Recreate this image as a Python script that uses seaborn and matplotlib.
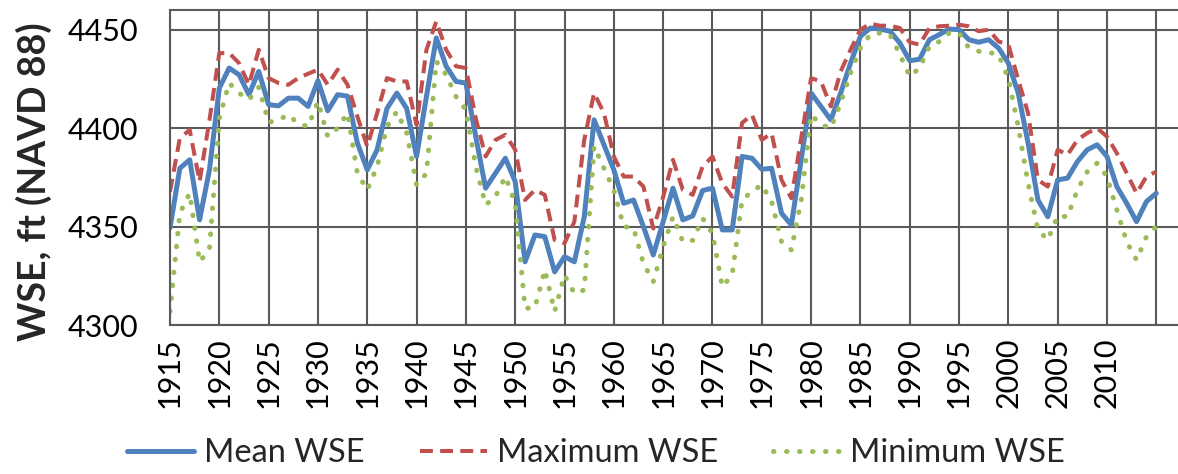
import matplotlib
matplotlib.use("Agg")
import matplotlib.pyplot as plt
import numpy as np
import pandas as pd
import seaborn as sns

years = list(range(1915, 2016))

mean_wse = [
    4349.3, 4379.6, 4383.9, 4353.4, 4378.8, 4420.3, 4430.5, 4427.1, 4417.0, 4428.8,
    4411.9, 4411.3, 4415.2, 4415.2, 4411.0, 4424.1, 4408.8, 4417.0, 4416.2, 4392.4,
    4378.8, 4389.0, 4410.0, 4417.8, 4410.0, 4385.6, 4416.0, 4445.8, 4431.4, 4423.7,
    4422.9, 4395.7, 4369.5, 4377.1, 4384.7, 4372.9, 4332.1, 4345.7, 4344.9, 4327.0,
    4334.7, 4332.1, 4355.0, 4404.2, 4391.5, 4378.8, 4361.8, 4363.5, 4350.0, 4335.6,
    4352.5, 4369.5, 4353.4, 4355.4, 4368.3, 4369.5, 4348.3, 4348.3, 4385.6, 4384.7,
    4379.1, 4379.6, 4356.8, 4350.8, 4384.0, 4417.8, 4411.0, 4404.2, 4417.8, 4433.0,
    4446.6, 4450.8, 4450.3, 4449.2, 4443.2, 4434.2, 4435.0, 4444.9, 4447.5, 4450.3,
    4450.0, 4444.9, 4443.6, 4444.9, 4440.7, 4433.0, 4417.8, 4392.4, 4363.5, 4355.0,
    4373.7, 4374.6, 4383.0, 4389.0, 4391.5, 4385.6, 4370.3, 4361.8, 4352.5, 4362.7,
    4366.9,
]

max_wse = [
    4367.8, 4394.9, 4399.1, 4372.9, 4404.0, 4438.1, 4438.1, 4433.0, 4422.0, 4439.8,
    4425.4, 4422.9, 4422.0, 4425.4, 4427.6, 4429.7, 4422.0, 4429.7, 4422.0, 4405.9,
    4390.7, 4407.6, 4425.4, 4423.7, 4423.7, 4401.7, 4439.8, 4454.2, 4439.8, 4431.4,
    4430.5, 4405.0, 4385.6, 4394.0, 4396.6, 4389.0, 4363.5, 4368.6, 4366.1, 4343.2,
    4341.5, 4352.5, 4394.0, 4417.8, 4407.6, 4385.6, 4375.4, 4375.4, 4370.3, 4349.0,
    4365.0, 4383.9, 4368.6, 4366.1, 4380.5, 4385.6, 4372.0, 4365.2, 4402.6, 4406.8,
    4394.0, 4397.4, 4373.7, 4364.4, 4395.0, 4425.4, 4423.7, 4411.0, 4428.8, 4439.8,
    4450.0, 4453.0, 4452.0, 4452.0, 4450.8, 4443.6, 4442.4, 4450.8, 4451.7, 4452.0,
    4452.5, 4451.7, 4449.2, 4450.0, 4444.0, 4442.4, 4424.6, 4407.6, 4373.7, 4370.3,
    4389.0, 4386.4, 4394.0, 4397.5, 4400.0, 4395.7, 4387.3, 4377.1, 4366.9, 4375.4,
    4377.9,
]

min_wse = [
    4306.9, 4356.8, 4366.9, 4332.1, 4338.5, 4405.0, 4422.9, 4417.8, 4414.4, 4420.8,
    4402.9, 4404.2, 4406.8, 4402.2, 4400.8, 4413.5, 4395.7, 4400.0, 4407.6, 4377.1,
    4368.6, 4380.5, 4400.8, 4408.4, 4397.5, 4371.2, 4377.0, 4433.9, 4427.1, 4416.0,
    4409.3, 4380.5, 4361.0, 4365.2, 4375.4, 4361.8, 4308.4, 4308.9, 4328.0, 4306.9,
    4325.4, 4316.1, 4317.8, 4390.7, 4379.6, 4368.6, 4350.0, 4349.2, 4331.3, 4322.0,
    4339.8, 4355.0, 4342.3, 4343.0, 4354.2, 4346.6, 4319.4, 4325.4, 4363.5, 4367.8,
    4371.2, 4362.7, 4342.3, 4338.1, 4363.5, 4406.8, 4401.7, 4400.0, 4412.7, 4428.0,
    4440.7, 4447.5, 4448.3, 4447.5, 4437.3, 4426.3, 4430.5, 4441.5, 4444.0, 4448.3,
    4448.3, 4440.7, 4439.0, 4438.5, 4437.3, 4425.4, 4400.8, 4372.0, 4348.3, 4343.2,
    4355.4, 4355.0, 4368.6, 4377.9, 4382.2, 4375.4, 4358.4, 4342.3, 4333.0, 4344.9,
    4350.0,
]

series_names = ["Mean WSE", "Maximum WSE", "Minimum WSE"]
series_colors = ["#4F81BD", "#C0504D", "#9BBB59"]

df = pd.DataFrame({
    "Year": years * 3,
    "WSE": mean_wse + max_wse + min_wse,
    "Series": [series_names[0]] * len(years)
    + [series_names[1]] * len(years)
    + [series_names[2]] * len(years),
})

sns.set_style("white")
plt.rcParams["font.family"] = ["Lato", "DejaVu Sans"]

fig = plt.figure(figsize=(11.78, 4.74), dpi=100)
ax = fig.add_axes([0.1443, 0.3143, 0.8557, 0.6647])

styles = {
    "Mean WSE": dict(linewidth=3.6, linestyle="-", solid_capstyle="round"),
    "Maximum WSE": dict(linewidth=2.9, linestyle=(0, (3.2, 1.8))),
    "Minimum WSE": dict(linewidth=3.6, linestyle=(0, (0.1, 2.5)), dash_capstyle="round"),
}
for name, color in zip(series_names, series_colors):
    sub = df[df["Series"] == name]
    sns.lineplot(data=sub, x="Year", y="WSE", ax=ax, color=color, label=name,
                 **styles[name])

grid_color = "#5A5A5A"
ax.set_xlim(1915, 2017.2)
ax.set_ylim(4300, 4460)
ax.set_yticks([4300, 4350, 4400, 4450])
xt = list(range(1915, 2016, 5))
ax.set_xticks(xt)
ax.set_xticklabels([str(v) if v <= 2010 else "" for v in xt], rotation=90)
ax.grid(True, color=grid_color, linewidth=1.5)
ax.set_axisbelow(True)

for side in ["left", "bottom", "top"]:
    ax.spines[side].set_visible(True)
    ax.spines[side].set_color(grid_color)
    ax.spines[side].set_linewidth(1.5)
ax.spines["right"].set_visible(False)

ax.tick_params(axis="both", direction="out", width=1.5,
               color=grid_color, labelsize=22, labelcolor="black")
ax.tick_params(axis="x", length=7, pad=2)
ax.tick_params(axis="y", length=7, pad=16)

ax.set_xlabel("")
ax.set_ylabel("WSE, ft (NAVD 88)", fontsize=27, fontweight="bold")
ax.yaxis.set_label_coords(-0.117, 0.455)

ax.get_legend().remove()
handles, labels = ax.get_legend_handles_labels()
fig.legend(handles, labels, loc="lower center", bbox_to_anchor=(0.506, -0.05),
           ncol=3, frameon=False, fontsize=23.5, handlelength=2.05,
           columnspacing=1.7, handletextpad=0.3)

fig.savefig("out.png", dpi=100)
